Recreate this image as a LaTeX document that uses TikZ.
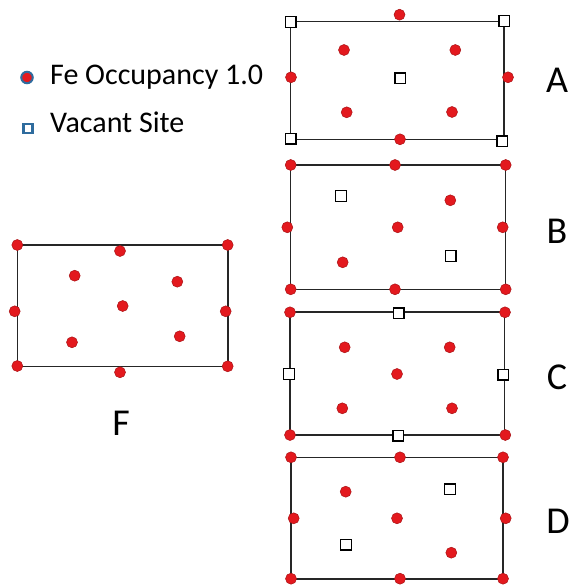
\documentclass[tikz,border=0pt]{standalone}
\usepackage{fontspec}
\setmainfont{Carlito}
\definecolor{fered}{HTML}{E3191E}
\definecolor{legblue}{HTML}{2F6C9E}
\definecolor{frame}{HTML}{262626}
\tikzset{
  fe/.style={circle, inner sep=0pt, minimum size=11pt, fill=fered, draw=fered!75!black, line width=0.5pt},
  vac/.style={rectangle, inner sep=0pt, minimum size=10.5pt, fill=white, draw=black, line width=1.3pt},
  cell/.style={draw=frame, line width=1.6pt},
  plabel/.style={font=\fontsize{38}{40}\selectfont, inner sep=0pt},
  legtext/.style={font=\fontsize{30}{34}\selectfont, anchor=base west, inner sep=0pt}
}
\begin{document}
\begin{tikzpicture}[x=1pt, y=-1pt]
\useasboundingbox (0,0) rectangle (575,585);

% ---------------- legend ----------------
\node[circle, inner sep=0pt, minimum size=11.5pt, fill=fered, draw=legblue, line width=2pt] (legfe) at (27,77.5) {};
\node[legtext] (legfetext) at (50,85) {Fe Occupancy 1.0};
\node[rectangle, inner sep=0pt, minimum size=9pt, fill=white, draw=legblue, line width=2.2pt] (legvac) at (28,128.5) {};
\node[legtext] (legvactext) at (50,132.3) {Vacant Site};

% ---------------- cell A ----------------
\coordinate (A-tl) at (290.5,21.5);
\coordinate (A-tr) at (503.8,21.5);
\coordinate (A-br) at (503.8,139.5);
\coordinate (A-bl) at (290.5,139.5);
\draw[cell] (A-tl) -- (A-tr) -- (A-br) -- (A-bl) -- cycle;
\node[vac] (A1) at (290.7,22) {};
\node[fe]  (A2) at (399.5,14.7) {};
\node[vac] (A3) at (504.3,21) {};
\node[fe]  (A4) at (344,50) {};
\node[fe]  (A5) at (455.3,50) {};
\node[fe]  (A6) at (291,77.3) {};
\node[vac] (A7) at (400.3,78.3) {};
\node[fe]  (A8) at (508,77.3) {};
\node[fe]  (A9) at (346.7,112.3) {};
\node[fe]  (A10) at (452,112) {};
\node[vac] (A11) at (290.7,138.7) {};
\node[fe]  (A12) at (400,139.3) {};
\node[vac] (A13) at (502.3,141.3) {};
\node[plabel] (Alab) at (557,80) {A};

% ---------------- cell B ----------------
\coordinate (B-tl) at (290.5,165);
\coordinate (B-tr) at (505.5,165);
\coordinate (B-br) at (505.5,289.3);
\coordinate (B-bl) at (290.5,289.3);
\draw[cell] (B-tl) -- (B-tr) -- (B-br) -- (B-bl) -- cycle;
\node[fe]  (B1) at (290.7,165) {};
\node[fe]  (B2) at (395,165) {};
\node[fe]  (B3) at (505.7,165) {};
\node[vac] (B4) at (341,196) {};
\node[fe]  (B5) at (450.3,200.3) {};
\node[fe]  (B6) at (287.3,227.3) {};
\node[fe]  (B7) at (397.7,227.3) {};
\node[fe]  (B8) at (502.7,227.3) {};
\node[fe]  (B9) at (342.7,262.3) {};
\node[vac] (B10) at (450.7,256) {};
\node[fe]  (B11) at (290.7,289.3) {};
\node[fe]  (B12) at (395,289.3) {};
\node[fe]  (B13) at (505.7,289.3) {};
\node[plabel] (Blab) at (557,231) {B};

% ---------------- cell C ----------------
\coordinate (C-tl) at (290,312);
\coordinate (C-tr) at (504.5,312);
\coordinate (C-br) at (504.5,435.2);
\coordinate (C-bl) at (290,435.2);
\draw[cell] (C-tl) -- (C-tr) -- (C-br) -- (C-bl) -- cycle;
\node[fe]  (C1) at (290,312.3) {};
\node[vac] (C2) at (398.7,313.3) {};
\node[fe]  (C3) at (505,312.3) {};
\node[fe]  (C4) at (344.7,347.3) {};
\node[fe]  (C5) at (449.7,347.3) {};
\node[vac] (C6) at (289,374) {};
\node[fe]  (C7) at (397,374) {};
\node[vac] (C8) at (503.3,374.7) {};
\node[fe]  (C9) at (342.3,408.3) {};
\node[fe]  (C10) at (452,408.3) {};
\node[fe]  (C11) at (290,435) {};
\node[vac] (C12) at (398.3,435.7) {};
\node[fe]  (C13) at (505.3,435) {};
\node[plabel] (Clab) at (557,377.5) {C};

% ---------------- cell D ----------------
\coordinate (D-tl) at (291,457.3);
\coordinate (D-tr) at (503,457.3);
\coordinate (D-br) at (503,578.7);
\coordinate (D-bl) at (291,578.7);
\draw[cell] (D-tl) -- (D-tr) -- (D-br) -- (D-bl) -- cycle;
\node[fe]  (D1) at (291,457.3) {};
\node[fe]  (D2) at (400,457.3) {};
\node[fe]  (D3) at (503,457.3) {};
\node[fe]  (D4) at (345.7,491.7) {};
\node[vac] (D5) at (450,489.3) {};
\node[fe]  (D6) at (293.7,518.3) {};
\node[fe]  (D7) at (397,518.3) {};
\node[fe]  (D8) at (505.7,518.3) {};
\node[vac] (D9) at (346,544.7) {};
\node[fe]  (D10) at (451.3,552.7) {};
\node[fe]  (D11) at (291,578.7) {};
\node[fe]  (D12) at (400,578.7) {};
\node[fe]  (D13) at (503,578.7) {};
\node[plabel] (Dlab) at (558,521) {D};

% ---------------- cell F ----------------
\coordinate (F-tl) at (17.3,245);
\coordinate (F-tr) at (227.7,245);
\coordinate (F-br) at (227.7,366.3);
\coordinate (F-bl) at (17.3,366.3);
\draw[cell] (F-tl) -- (F-tr) -- (F-br) -- (F-bl) -- cycle;
\node[fe] (F1) at (17.3,245) {};
\node[fe] (F2) at (120,251) {};
\node[fe] (F3) at (227.7,245) {};
\node[fe] (F4) at (74.7,275.7) {};
\node[fe] (F5) at (177.3,281.7) {};
\node[fe] (F6) at (14.7,311.3) {};
\node[fe] (F7) at (122.7,306) {};
\node[fe] (F8) at (225.7,311.3) {};
\node[fe] (F9) at (72,342.3) {};
\node[fe] (F10) at (179.7,336.3) {};
\node[fe] (F11) at (17.3,366) {};
\node[fe] (F12) at (120,372.3) {};
\node[fe] (F13) at (227.7,366.3) {};
\node[plabel] (Flab) at (121,423) {F};
\end{tikzpicture}
\end{document}
